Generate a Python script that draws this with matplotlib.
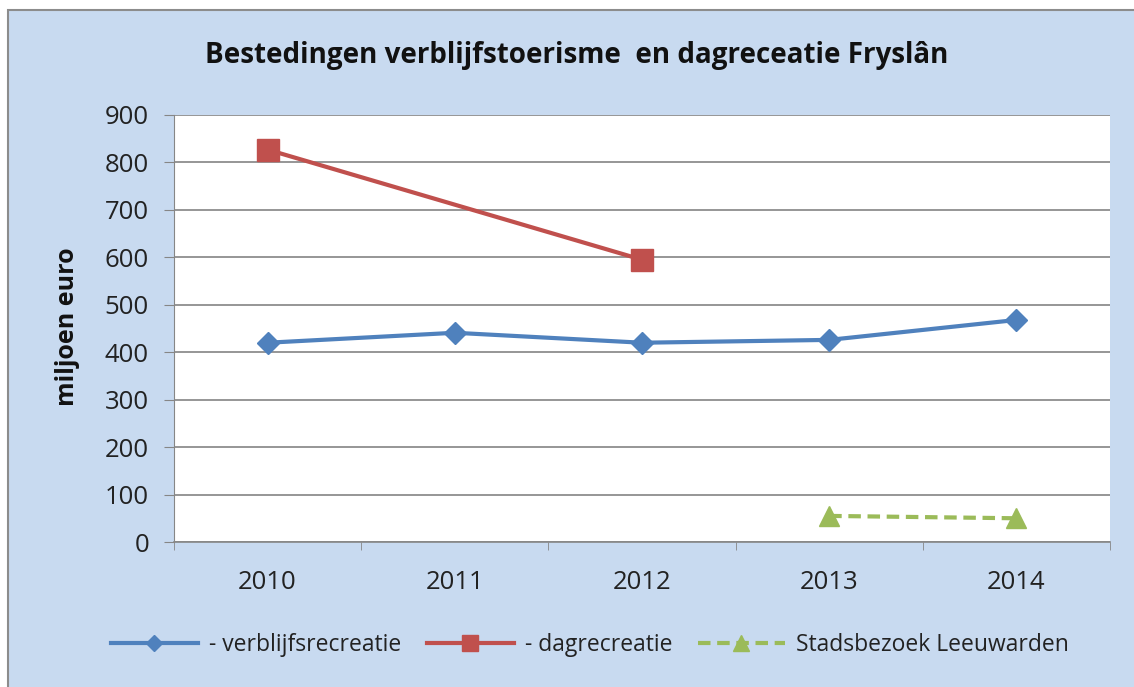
import matplotlib
matplotlib.use("Agg")
import matplotlib.pyplot as plt
from matplotlib.patches import Rectangle
import numpy as np

years = ["2010", "2011", "2012", "2013", "2014"]
verblijf = [420, 441, 420, 426, 468]
dagrecreatie = [827, None, 595, None, None]
stadsbezoek = [None, None, None, 55, 50]
yticks = [0, 100, 200, 300, 400, 500, 600, 700, 800, 900]

plt.rcParams['font.family'] = ['Open Sans', 'DejaVu Sans']

fig = plt.figure(figsize=(11.34, 6.87), dpi=100)
bg = "#C8DAF0"
fig.patch.set_facecolor("white")
fig.patches.append(Rectangle((8/1134, -0.01), 1.0, 1 - 10/687 + 0.01, transform=fig.transFigure,
                             facecolor=bg, edgecolor="#8C8C8C", linewidth=1.5, zorder=-1))

ax = fig.add_axes([174/1134, 1 - 542/687, (1110-174)/1134, (542-115)/687])
ax.set_facecolor("white")
x = np.arange(len(years))

def arr(v):
    return np.array([np.nan if a is None else a for a in v], dtype=float)

d = arr(dagrecreatie)
m = ~np.isnan(d)
ax.plot(x, arr(verblijf), color="#4F81BD", lw=3, marker="D", ms=11.5, zorder=3,
        label="- verblijfsrecreatie")
ax.plot(x[m], d[m], color="#C0504D", lw=3, marker="s", ms=16, zorder=3,
        label="- dagrecreatie")
s = arr(stadsbezoek)
ms_ = ~np.isnan(s)
ax.plot(x[ms_], s[ms_], color="#9BBB59", lw=3, ls=(0, (3.0, 1.6)), marker="^", ms=15, zorder=3,
        label="Stadsbezoek Leeuwarden")

ax.set_xlim(-0.5, 4.5)
ax.set_ylim(0, 900)
ax.set_yticks(yticks)
ax.set_yticklabels([str(v) for v in yticks], fontsize=18.5, color="#222222")
ax.set_xticks(x)
ax.set_xticklabels(years, fontsize=18.5, color="#222222")
ax.tick_params(axis='x', length=0, pad=20)
ax.set_xticks(np.arange(-0.5, 5, 1), minor=True)
ax.tick_params(axis='x', which='minor', length=6, color="#868686", direction='out')
ax.tick_params(axis='y', length=7, color="#868686", direction='out', pad=11)
ax.yaxis.grid(True, color="#848484", lw=1.2)
ax.set_axisbelow(True)
for sp in ["top", "right"]:
    ax.spines[sp].set_visible(False)
ax.spines["left"].set_color("#868686")
ax.spines["bottom"].set_color("#868686")
ax.spines["bottom"].set_linewidth(1.2)

fig.text(68/1134, 1 - 327/687, "miljoen euro", rotation=90, ha="center", va="center",
         fontsize=18, fontweight="bold", color="#111111")

fig.text(577/1134, 1 - 63/687, "Bestedingen verblijfstoerisme  en dagreceatie Fryslân",
         ha="center", va="baseline", fontsize=20, fontweight="bold", color="#111111")

leg = fig.legend(loc="center", bbox_to_anchor=(590/1134, 1 - 645/687), ncol=3, frameon=False,
                 fontsize=16.5, handlelength=3.8, columnspacing=1.1, handletextpad=0.5,
                 markerscale=0.75)
for t in leg.get_texts():
    t.set_color("#222222")

fig.savefig("out.png", dpi=100, facecolor=fig.get_facecolor())
